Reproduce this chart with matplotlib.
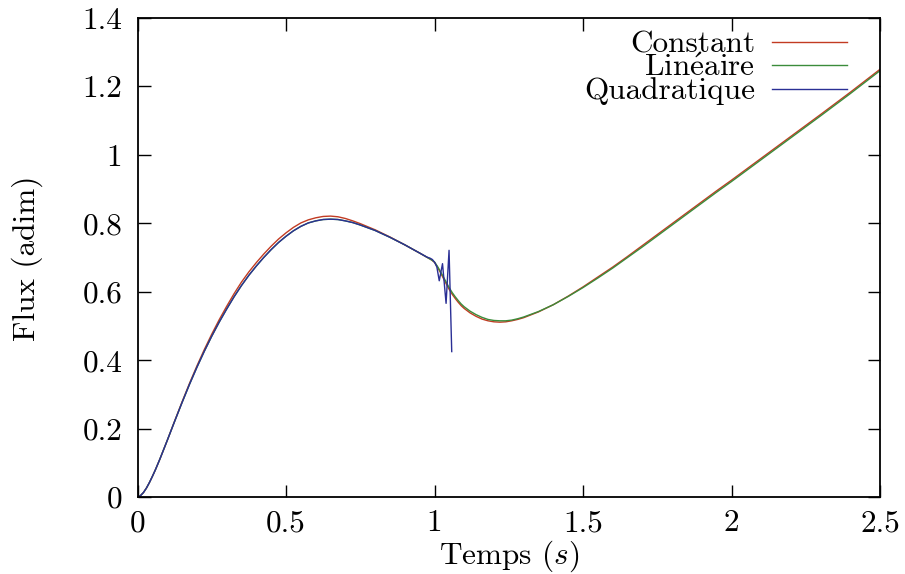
import numpy as np
import matplotlib
matplotlib.use("Agg")
import matplotlib.pyplot as plt
from matplotlib.lines import Line2D

plt.rcParams['font.family'] = 'serif'
plt.rcParams['font.serif'] = ['cmr10']
plt.rcParams['mathtext.fontset'] = 'cm'
plt.rcParams['axes.unicode_minus'] = False

# ---- data ----
t_cl = [0, 0.01, 0.02, 0.03, 0.04, 0.05, 0.06, 0.075, 0.1, 0.125, 0.15, 0.175, 0.2,
        0.225, 0.25, 0.275, 0.3, 0.325, 0.35, 0.375, 0.4, 0.425, 0.45, 0.475, 0.5,
        0.525, 0.55, 0.575, 0.6, 0.625, 0.65, 0.675, 0.7, 0.725, 0.75, 0.8, 0.85,
        0.9, 0.95, 0.99, 1.0, 1.01, 1.02, 1.03, 1.04, 1.05, 1.06, 1.07, 1.08, 1.09,
        1.1, 1.12, 1.14, 1.16, 1.18, 1.2, 1.22, 1.24, 1.26, 1.28, 1.3, 1.35, 1.4,
        1.45, 1.5, 1.55, 1.6, 1.65, 1.7, 1.75, 1.8, 1.85, 1.9, 1.95, 2.0, 2.1, 2.2,
        2.3, 2.4, 2.5]
flux_constant = [0, 0.004, 0.013, 0.026, 0.042, 0.06, 0.079, 0.11, 0.165, 0.222,
                 0.278, 0.332, 0.383, 0.431, 0.476, 0.518, 0.557, 0.594, 0.628,
                 0.658, 0.685, 0.71, 0.733, 0.754, 0.772, 0.788, 0.801, 0.81, 0.816,
                 0.82, 0.821, 0.819, 0.814, 0.807, 0.799, 0.781, 0.76, 0.737, 0.713,
                 0.693, 0.686, 0.672, 0.656, 0.639, 0.622, 0.606, 0.592, 0.58, 0.569,
                 0.559, 0.551, 0.538, 0.528, 0.52, 0.515, 0.512, 0.511, 0.512, 0.515,
                 0.519, 0.524, 0.541, 0.562, 0.587, 0.614, 0.643, 0.672, 0.703, 0.735,
                 0.767, 0.799, 0.831, 0.863, 0.895, 0.926, 0.99, 1.054, 1.118, 1.183,
                 1.25]
flux_lineaire = [0, 0.004, 0.013, 0.026, 0.042, 0.06, 0.079, 0.11, 0.165, 0.221,
                 0.276, 0.329, 0.379, 0.426, 0.47, 0.511, 0.549, 0.585, 0.618,
                 0.648, 0.675, 0.7, 0.723, 0.744, 0.762, 0.778, 0.791, 0.801, 0.807,
                 0.811, 0.812, 0.811, 0.807, 0.802, 0.795, 0.779, 0.759, 0.737, 0.713,
                 0.693, 0.687, 0.674, 0.659, 0.643, 0.627, 0.611, 0.597, 0.585, 0.574,
                 0.564, 0.556, 0.543, 0.533, 0.525, 0.519, 0.516, 0.515, 0.515, 0.517,
                 0.521, 0.526, 0.542, 0.562, 0.586, 0.612, 0.64, 0.669, 0.7, 0.731,
                 0.763, 0.795, 0.827, 0.859, 0.891, 0.922, 0.986, 1.05, 1.114, 1.179,
                 1.246]
t_quad = [0, 0.01, 0.02, 0.03, 0.04, 0.05, 0.06, 0.075, 0.1, 0.125, 0.15, 0.175, 0.2,
          0.225, 0.25, 0.275, 0.3, 0.325, 0.35, 0.375, 0.4, 0.425, 0.45, 0.475, 0.5,
          0.525, 0.55, 0.575, 0.6, 0.625, 0.65, 0.675, 0.7, 0.725, 0.75, 0.8, 0.85,
          0.9, 0.95, 0.975, 0.985, 0.993, 1.001, 1.008, 1.016, 1.027, 1.039, 1.049,
          1.058]
flux_quadratique = [0, 0.004, 0.013, 0.026, 0.042, 0.06, 0.079, 0.11, 0.165, 0.221,
                    0.276, 0.329, 0.379, 0.426, 0.47, 0.511, 0.549, 0.585, 0.618,
                    0.648, 0.675, 0.7, 0.723, 0.744, 0.762, 0.778, 0.791, 0.801,
                    0.807, 0.811, 0.812, 0.811, 0.807, 0.802, 0.795, 0.779, 0.759,
                    0.737, 0.713, 0.701, 0.698, 0.694, 0.685, 0.672, 0.632, 0.682,
                    0.566, 0.721, 0.425]

labels = ["Constant", r"Lin$\mathrm{\acute{e}}$aire", "Quadratique"]
colors = ["#c23b22", "#3b8c3b", "#2a2f95"]

xticks = [0, 0.5, 1, 1.5, 2, 2.5]
xticklabels = ["0", "0.5", "1", "1.5", "2", "2.5"]
yticks = [0, 0.2, 0.4, 0.6, 0.8, 1, 1.2, 1.4]
yticklabels = ["0", "0.2", "0.4", "0.6", "0.8", "1", "1.2", "1.4"]

FS = 22.5
fig = plt.figure(figsize=(9.05, 5.74), dpi=100)
ax = fig.add_axes([137.5 / 905, 77 / 574, 742.5 / 905, 479 / 574])

ax.plot(t_cl, flux_constant, color=colors[0], lw=1.0)
ax.plot(t_cl, flux_lineaire, color=colors[1], lw=1.0)
ax.plot(t_quad, flux_quadratique, color=colors[2], lw=1.0)

ax.set_xlim(0, 2.5)
ax.set_ylim(0, 1.4)
ax.set_xticks(xticks)
ax.set_xticklabels(xticklabels)
ax.set_yticks(yticks)
ax.set_yticklabels(yticklabels)
ax.tick_params(direction='in', length=9, width=1.0, top=True, right=True,
               labelsize=FS)
ax.tick_params(axis='x', pad=9)
ax.tick_params(axis='y', pad=11)
for s in ax.spines.values():
    s.set_linewidth(1.3)

fig.text(508.75 / 905, 1 - 556 / 574, r"Temps ($s$)", fontsize=FS,
         ha='center', va='center')
fig.text(27 / 905, 1 - 258 / 574, "Flux (adim)", fontsize=FS, rotation=90,
         ha='center', va='center')

# gnuplot-style key: right-aligned labels, sample lines on the right
line_rows = [0.950, 0.902, 0.852]
text_rows = [0.927, 0.879, 0.831]
for lab, col, yl, yt in zip(labels, colors, line_rows, text_rows):
    ax.text(0.8316, yt, lab, transform=ax.transAxes, ha='right', va='baseline',
            fontsize=FS)
    ax.add_line(Line2D([0.854, 0.955], [yl, yl], transform=ax.transAxes,
                       color=col, lw=1.0))

fig.savefig("out.png", dpi=100)
